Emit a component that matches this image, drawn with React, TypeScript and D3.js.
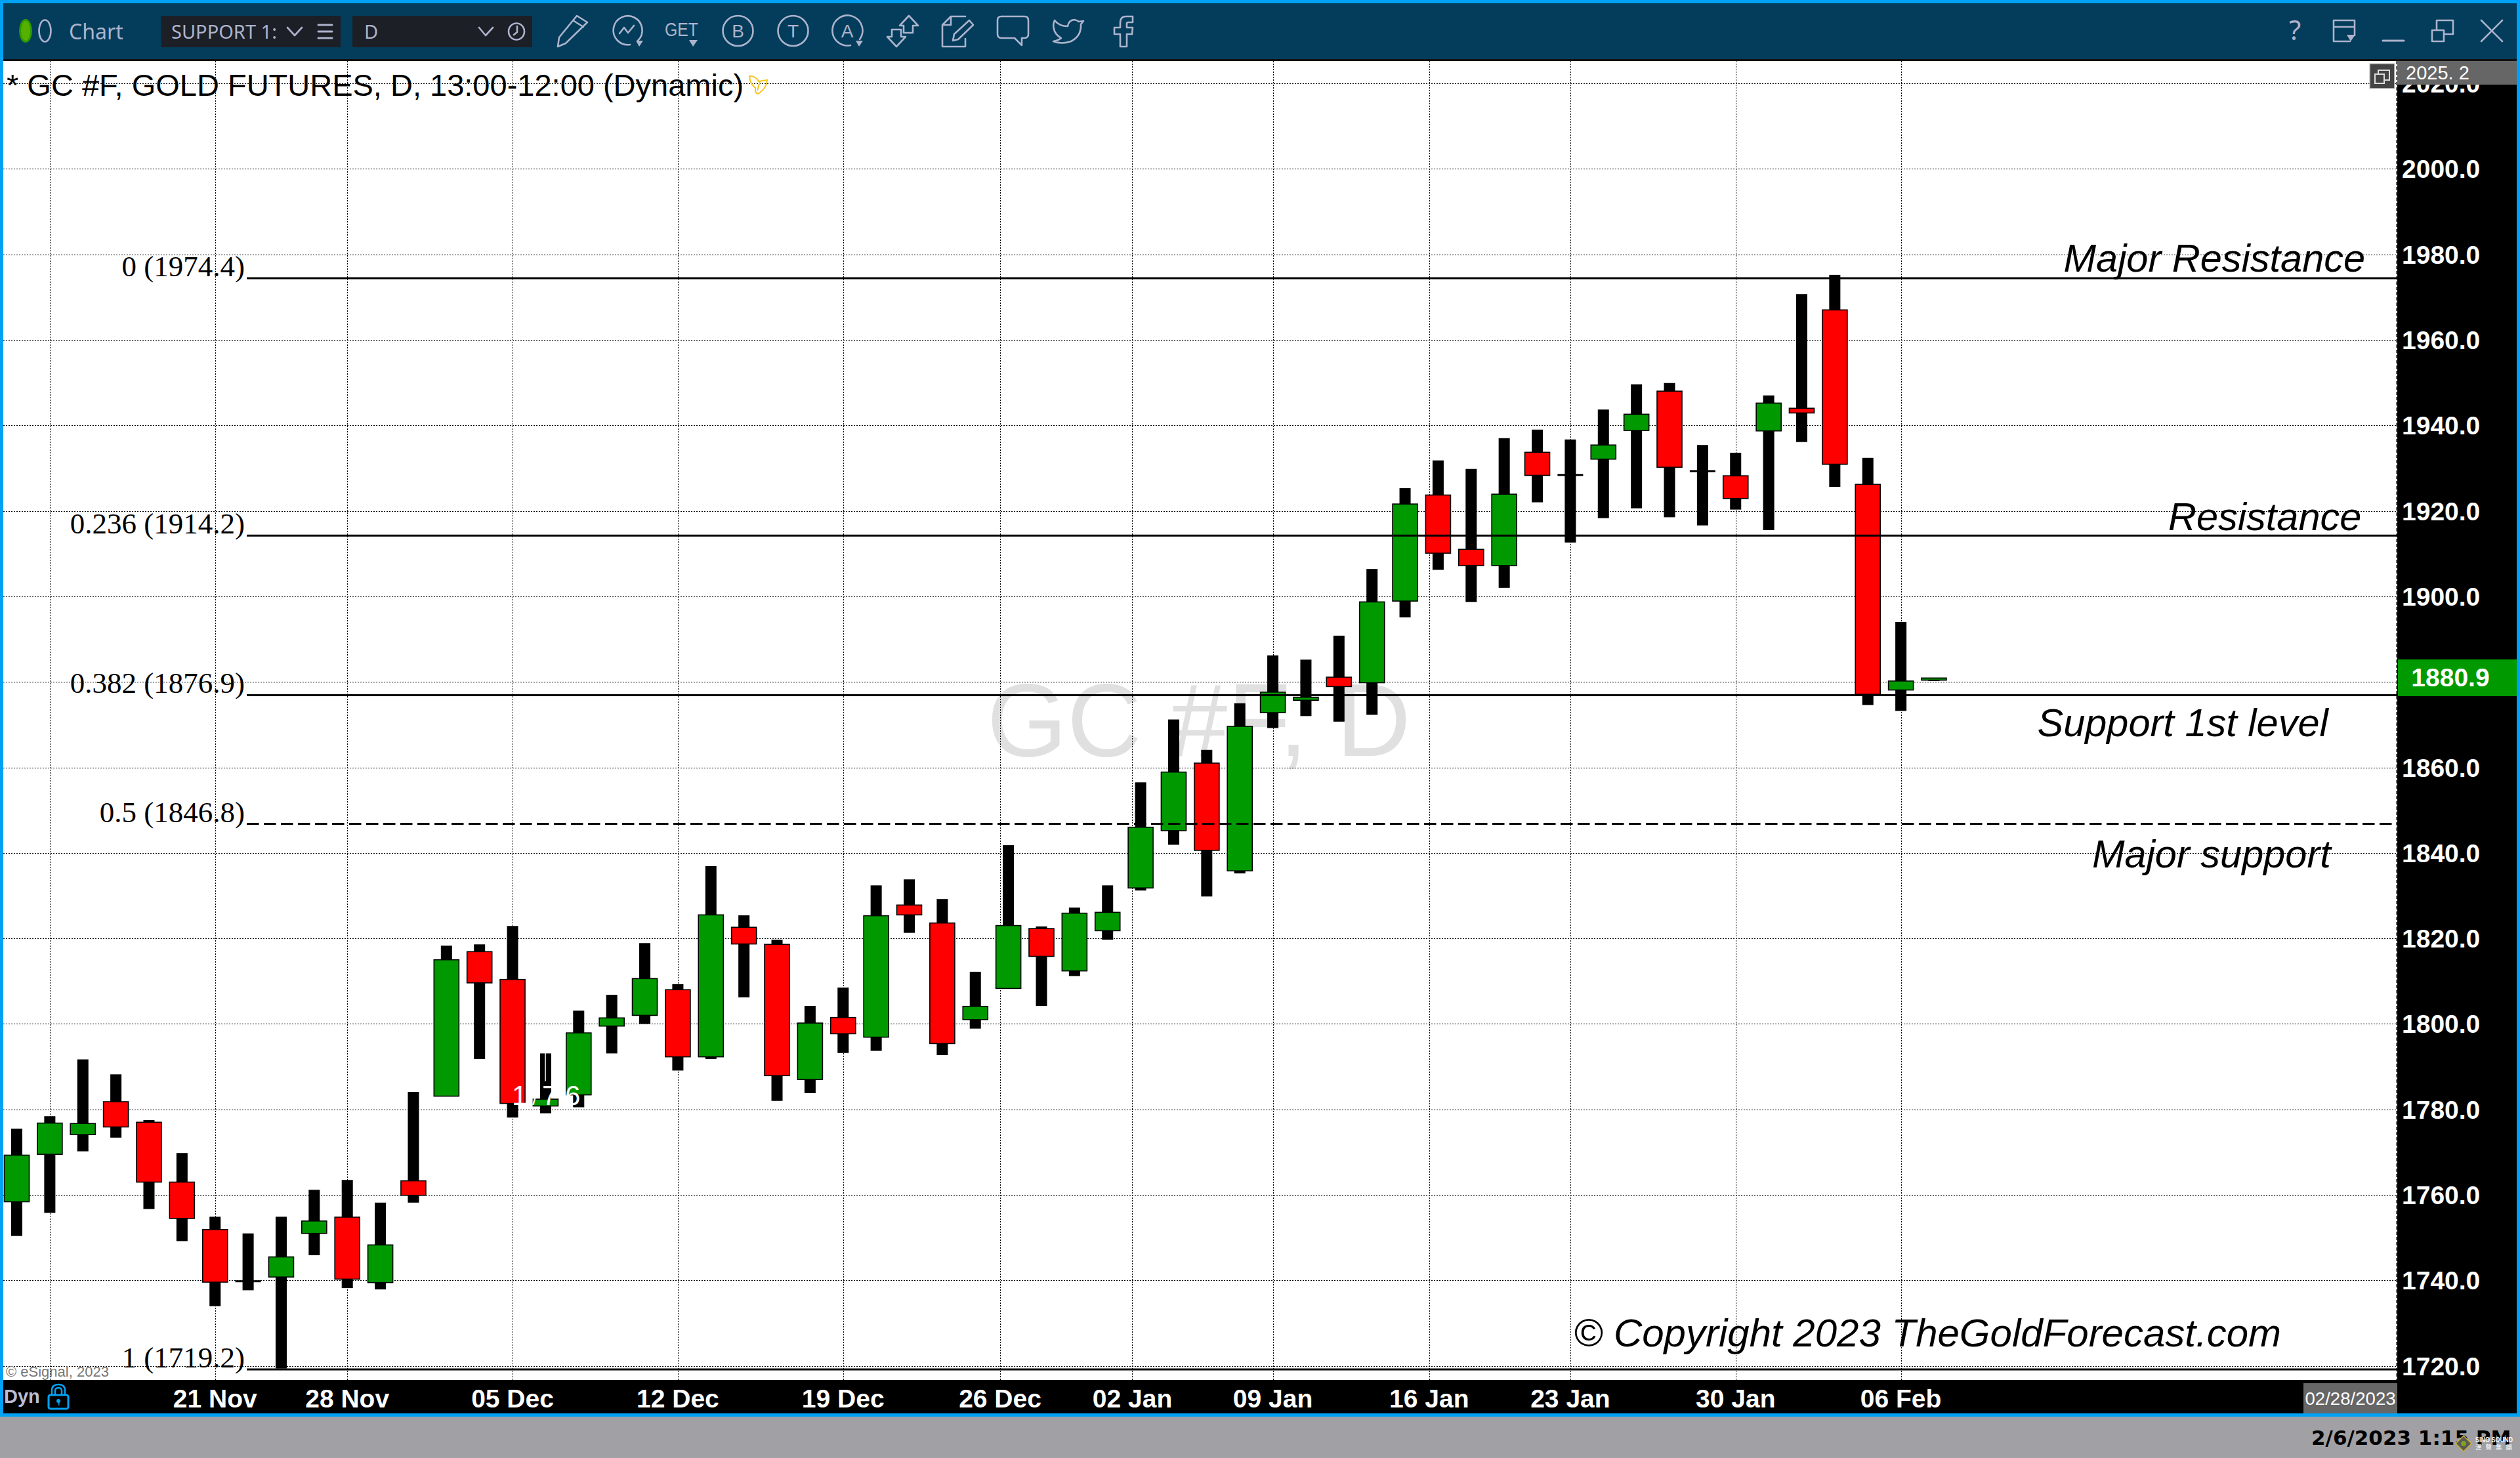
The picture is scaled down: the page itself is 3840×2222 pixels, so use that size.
import React from "react";
import * as d3 from "d3";

const opens = [1758.4,1769.5,1774.1,1781.8,1777,1763,1751.9,1739.8,1740.8,1751,1754.8,1739.5,1763.3,1783.1,1816.9,1810.4,1780.8,1783.4,1799.5,1802,1808,1792.3,1822.6,1818.6,1787,1801.5,1796.9,1827.8,1823.6,1801,1808.3,1822.3,1812.4,1821.8,1831.8,1845.2,1861,1835.8,1872.8,1875.7,1881.1,1879.8,1898.9,1923.7,1911,1907.2,1933.7,1928.4,1932.1,1938.8,1948,1929.3,1928.2,1938.7,1944,1967,1926.2,1878.1,1880.4];
const closes = [1769.3,1776.8,1776.7,1775.9,1763,1754.5,1739.6,1739.8,1745.5,1753.9,1740.3,1748.3,1759.9,1815,1809.6,1781.4,1782.4,1797.9,1801.4,1810.6,1792.3,1825.5,1818.7,1787.9,1800.2,1797.7,1825.3,1825.5,1795.4,1804.1,1823,1815.8,1825.9,1826.1,1846,1858.9,1840.6,1869.6,1877.6,1876.4,1878.9,1898.7,1921.6,1910.1,1907.2,1923.9,1928.3,1928.4,1935.4,1942.6,1930.2,1929.3,1922.9,1945.2,1942.9,1930.9,1877.1,1880.2,1880.9];
const highs = [1775.5,1778.4,1791.7,1788.2,1777.5,1769.8,1754.9,1751,1754.9,1761.2,1763.5,1758.2,1784.1,1818.3,1818.6,1822.9,1793.1,1803.1,1806.8,1818.9,1809.3,1836.9,1825.4,1819.7,1804.2,1808.5,1832.4,1833.8,1829.2,1812.2,1841.8,1822.8,1827.2,1832.4,1856.5,1871.2,1864.1,1875,1886.2,1885.2,1890.8,1906.4,1925.3,1931.8,1929.8,1937,1939,1936.7,1943.7,1949.6,1949.9,1935.4,1933.6,1947,1970.7,1975.2,1932.4,1894,1880.9];
const lows = [1750.4,1755.8,1770.2,1773.4,1756.7,1749.2,1734,1737.7,1719.4,1745.9,1738.2,1737.9,1758.2,1783.1,1791.8,1778.1,1779.1,1780.5,1793.1,1800,1789.1,1791.8,1806.2,1782,1783.8,1793.2,1793.7,1821.3,1792.7,1798.9,1808.3,1804.2,1811.2,1819.7,1831.2,1841.9,1829.8,1835.2,1869.2,1872,1870.7,1872.3,1895.1,1906.2,1898.7,1902,1922,1912.6,1918.3,1920.6,1918.5,1916.6,1920.3,1915.5,1936.1,1925.6,1874.6,1873.2,1880.2];

const priceTicks = d3.range(1720, 2021, 20);
const dateLabels = ["", "21 Nov", "28 Nov", "05 Dec", "12 Dec", "19 Dec", "26 Dec", "02 Jan", "09 Jan", "16 Jan", "23 Jan", "30 Jan", "06 Feb"];
const dateTickIndex = [1, 6, 10, 15, 20, 25, 29.75, 33.75, 38, 42.73, 47, 52, 57];
const fibLevels = [1974.4, 1914.2, 1876.9, 1846.8, 1719.2];
const fibNames = ["0 (1974.4)", "0.236 (1914.2)", "0.382 (1876.9)", "0.5 (1846.8)", "1 (1719.2)"];
const lastPrice = "1880.9";
const notes = ["Major Resistance", "Resistance", "Support 1st level", "Major support", "© Copyright 2023 TheGoldForecast.com"];

const SANS = "'Liberation Sans', Arial, sans-serif";
const SERIF = "'Liberation Serif', 'Times New Roman', serif";
const UI = "'Noto Sans', sans-serif";
const ICON = "#adb3cc";
const BLUE = "#00a2f5";
const TEAL = "#033d5b";
const GREEN = "#009a00";
const RED = "#ff0000";

const W = 3840, H = 2222;
const AX = 3653, PT = 93, PB = 2103, AB = 2154;

export default function App() {
  const x = d3.scaleLinear().domain([0, 57]).range([25.5, 2896.6]);
  const y = d3.scaleLinear().domain([1720, 2000]).range([2081.7, 257.3]);
  const bodyW = 38, wickW = 17;
  const noteX = [3144.5, 3304, 3104.5, 3188, 2398];
  const noteY = [413.8, 807.7, 1122, 1322, 2051.7];
  const noteSize = [59.5, 59.5, 59.5, 59.5, 60];

  const ic = { fill: "none", stroke: ICON, strokeWidth: 2.6, strokeLinejoin: "round" as const, strokeLinecap: "round" as const };

  return (
    <svg width={W} height={H} viewBox={`0 0 ${W} ${H}`} style={{ position: "absolute", left: 0, top: 0, display: "block" }}>
      <defs>
        <clipPath id="clipSupport"><rect x={255} y={24} width={168} height={48} /></clipPath>
        <clipPath id="clipPlot"><rect x={5} y={PT} width={AX - 5} height={PB - PT} /></clipPath>
      </defs>
      <rect width={W} height={H} fill="#a0a0a5" />
      <rect x={0} y={0} width={W} height={2159} fill={BLUE} />
      <rect x={5} y={5} width={W - 10} height={85} fill={TEAL} />
      <rect x={5} y={90} width={W - 10} height={3} fill="#111" />
      <rect x={5} y={PT} width={AX - 5} height={PB - PT} fill="#fff" />
      <rect x={5} y={PB} width={W - 10} height={AB - PB} fill="#000" />
      <rect x={AX} y={PT} width={3835 - AX} height={AB - PT} fill="#000" />

      {/* toolbar */}
      <ellipse cx={39} cy={47} rx={8.5} ry={16.5} fill="#55b000" stroke="#2c9a00" strokeWidth={3} />
      <ellipse cx={68.5} cy={47} rx={9} ry={16.5} {...ic} />
      <text x={105} y={60} fontFamily={UI} fontSize={32} fill={ICON}>Chart</text>
      <rect x={245.5} y={24} width={273.5} height={48} fill="#1c1f26" />
      <rect x={537} y={24} width={274} height={48} fill="#1c1f26" />
      <g clipPath="url(#clipSupport)">
        <text x={261} y={59} fontFamily={UI} fontSize={29} fill={ICON}>SUPPORT 1:</text>
      </g>
      <path d="M438 42 L449 54 L460 42" {...ic} />
      <path d="M485 38 H506 M485 48 H506 M485 58 H506" {...ic} strokeWidth={3} />
      <text x={555} y={59} fontFamily={UI} fontSize={29} fill={ICON}>D</text>
      <path d="M730 42 L740 54 L751 42" {...ic} />
      <ellipse cx={787} cy={48} rx={12} ry={12.5} {...ic} />
      <path d="M788 40 V49 L783 53" {...ic} />
      <path d="M879 24 L895 34 L862 66 L850 71 L852 57 Z M873 31 L889 41" {...ic} />
      <path d="M972 62 A22 22 0 1 0 960 68 M944 51 L951 42 L957 50 L966 39" {...ic} />
      <path d="M969 62 L980 62 L974 71 Z" fill={ICON} />
      <text x={1013} y={55} fontFamily={SANS} fontSize={30} fill={ICON} textLength={51} lengthAdjust="spacingAndGlyphs">GET</text>
      <path d="M1050 61 H1063 L1056 71 Z" fill={ICON} />
      <circle cx={1124.5} cy={47} r={23} {...ic} />
      <text x={1124.5} y={57} textAnchor="middle" fontFamily={SANS} fontSize={28} fill={ICON}>B</text>
      <circle cx={1208.5} cy={47} r={23} {...ic} />
      <text x={1208.5} y={57} textAnchor="middle" fontFamily={SANS} fontSize={28} fill={ICON}>T</text>
      <path d="M1310 60 A23 23 0 1 0 1296 69" {...ic} />
      <text x={1291} y={57} textAnchor="middle" fontFamily={SANS} fontSize={28} fill={ICON}>A</text>
      <path d="M1304 62 H1315 L1309 71 Z" fill={ICON} />
      <path d="M1385 24 L1399 39 L1391 39 L1391 50 L1377 50 L1377 39 L1371 39 Z" {...ic} />
      <path d="M1366 71 L1352 56 L1359 56 L1359 45 L1373 45 L1373 56 L1380 56 Z" {...ic} />
      <path d="M1471 25 H1449 L1436 38 V71 H1471 V59 M1449 25 V38 H1436 M1452 62 L1454 52 L1477 31 L1483 38 L1460 60 Z" {...ic} />
      <path d="M1526 25 H1561 Q1567 25 1567 31 V52 Q1567 58 1561 58 H1557 V69 L1546 58 H1526 Q1520 58 1520 52 V31 Q1520 25 1526 25 Z" {...ic} />
      <path d="M1607 31 Q1614 40 1627 40 Q1628 31 1637 30 Q1642 31 1644 33 L1651 32 L1647 37 Q1648 55 1632 63 Q1618 68 1605 63 Q1612 62 1617 58 Q1607 52 1606 44 Q1604 38 1607 31 Z" {...ic} />
      <path d="M1726 25 H1716 Q1707 25 1707 35 V42 H1698 V52 H1707 V71 H1717 V52 H1725 L1726 42 H1717 V36 Q1717 34 1719 34 H1726 Z" {...ic} />
      <text x={3497} y={61} textAnchor="middle" fontFamily={UI} fontSize={42} fill={ICON}>?</text>
      <path d="M3581 63 H3556 V31 H3588 V54 M3556 41 H3588" {...ic} />
      <path d="M3576 53 H3589 L3582 63 Z" fill={ICON} />
      <path d="M3631 62 H3663" {...ic} strokeWidth={3} />
      <path d="M3706 46 H3724 V63 H3706 Z M3713 46 V31 H3738 V52 H3724" {...ic} />
      <path d="M3781 31 L3813 63 M3813 31 L3781 63" {...ic} />

      {/* watermark */}
      <text x={1504} y={1152} fontFamily={SANS} fontSize={157} fill="#e0e0e0">GC #F, D</text>

      {/* grid */}
      <g clipPath="url(#clipPlot)" stroke="#000" strokeWidth={1} strokeDasharray="2 2" fill="none" shapeRendering="crispEdges">
        {priceTicks.map((p) => (
          <line key={p} x1={5} x2={AX} y1={Math.round(y(p)) + 0.5} y2={Math.round(y(p)) + 0.5} />
        ))}
        {dateTickIndex.map((i) => (
          <line key={i} x1={Math.round(x(i)) + 0.5} x2={Math.round(x(i)) + 0.5} y1={PT} y2={PB} />
        ))}
      </g>
      <line x1={AX - 1} x2={AX - 1} y1={PT} y2={PB} stroke="#333" strokeWidth={1.5} strokeDasharray="5 3" />

      {/* candles */}
      <g clipPath="url(#clipPlot)">
        {highs.map((h, i) => {
          const top = Math.max(opens[i], closes[i]);
          const bot = Math.min(opens[i], closes[i]);
          const cx = x(i);
          const doji = opens[i] === closes[i];
          return (
            <g key={i}>
              <rect x={cx - wickW / 2} y={y(h)} width={wickW} height={y(lows[i]) - y(h)} fill="#000" />
              {doji ? (
                <rect x={cx - 19.5} y={y(top) - 1.5} width={39} height={3} fill="#000" />
              ) : (
                <rect x={cx - bodyW / 2} y={y(top)} width={bodyW} height={y(bot) - y(top)}
                  fill={closes[i] > opens[i] ? GREEN : RED} stroke="#000" strokeWidth={1.6} />
              )}
            </g>
          );
        })}
      </g>
      <line x1={831} x2={831} y1={1605} y2={1648} stroke="#fff" strokeWidth={1.5} />

      {/* Fibonacci levels */}
      {fibLevels.map((f, i) => (
        <g key={f}>
          <line x1={376} x2={AX} y1={y(f)} y2={y(f)} stroke="#000" strokeWidth={3}
            strokeDasharray={f === 1846.8 ? "18.5 7.5" : undefined} />
          <text x={373} y={y(f) - 3} textAnchor="end" fontFamily={SERIF} fontSize={45} fill="#000">{fibNames[i]}</text>
        </g>
      ))}

      {/* stray white price text over candles */}
      <g fontFamily={SANS} fontSize={42} fill="#fff">
        <text x={780} y={1684}>1</text>
        <text x={811} y={1684} fontSize={30}>/</text>
        <text x={826} y={1684}>7</text>
        <text x={861} y={1684}>6</text>
      </g>

      {/* annotations */}
      {notes.map((n, i) => (
        <text key={n} x={noteX[i]} y={noteY[i]} fontFamily={SANS} fontStyle="italic" fontSize={noteSize[i]} fill="#000">{n}</text>
      ))}

      {/* title */}
      <text x={10} y={146} fontFamily={SANS} fontSize={47} fill="#000">* GC #F, GOLD FUTURES, D, 13:00-12:00 (Dynamic)</text>
      <path d="M1142 116 Q1152 116 1156 124 L1169 122 Q1168 134 1158 141 L1155 143 Q1150 142 1151 134 Q1143 128 1142 116 Z M1158 124 L1154 138" fill="none" stroke="#f5c518" strokeWidth={2} />
      <text x={9} y={2097.7} fontFamily={SANS} fontSize={22} fill="#777">© eSignal, 2023</text>

      {/* price axis */}
      {priceTicks.map((p) => (
        <text key={p} x={3660} y={y(p) + 14} fontFamily={SANS} fontWeight={700} fontSize={39} fill="#fff">{d3.format(".1f")(p)}</text>
      ))}
      <rect x={AX} y={93} width={3835 - AX} height={36} fill="#666" />
      <text x={3666} y={121} fontFamily={SANS} fontSize={29} fill="#fff">2025. 2</text>
      <rect x={3611} y={97} width={38} height={38} fill="#444" stroke="#ccc" strokeWidth={1.5} />
      <path d="M3619 122 V113 H3633 V127 H3619 Z M3624 113 V107 H3641 V122 H3633" fill="none" stroke="#ddd" strokeWidth={2} />
      <rect x={3654} y={1005} width={181} height={56} fill={GREEN} />
      <text x={3734} y={1046} textAnchor="middle" fontFamily={SANS} fontWeight={700} fontSize={39} fill="#fff">{lastPrice}</text>

      {/* date axis */}
      {dateLabels.map((d, i) => d && (
        <text key={d} x={x(dateTickIndex[i])} y={2144.5} textAnchor="middle" fontFamily={SANS} fontWeight={700} fontSize={39} fill="#fff">{d}</text>
      ))}
      <text x={6} y={2138} fontFamily={SANS} fontWeight={700} fontSize={29} fill="#b9bdd6">Dyn</text>
      <rect x={74} y={2126} width={30} height={21} rx={3} fill="none" stroke={BLUE} strokeWidth={3} />
      <path d="M79 2126 V2119 Q79 2110 89 2110 Q99 2110 99 2119 V2126 M84 2126 V2120 Q84 2115 89 2115 Q94 2115 94 2120 V2126" fill="none" stroke={BLUE} strokeWidth={2.5} />
      <circle cx={89} cy={2135} r={3} fill={BLUE} />
      <rect x={89} y={2135} width={1.5} height={7} fill={BLUE} />
      <rect x={3510} y={2108} width={AX - 3510} height={46} fill="#666" />
      <text x={3512.5} y={2141} fontFamily={SANS} fontSize={27.6} fill="#fff">02/28/2023</text>

      {/* status strip */}
      <text x={3522} y={2202} fontFamily="'DejaVu Sans', sans-serif" fontWeight={700} fontSize={31} fill="#000">2/6/2023 1:15 PM</text>
      <path d="M3754 2188 L3766 2200 L3754 2212 L3742 2200 Z" fill="#5a5a55" stroke="#c9b030" strokeWidth={1.5} />
      <circle cx={3754} cy={2200} r={4} fill="#7fa020" />
      <text x={3772} y={2198} fontFamily={SANS} fontWeight={700} fontSize={10.5} fill="#fff" textLength={57} lengthAdjust="spacingAndGlyphs">SINO SOUND</text>
      <text x={3772} y={2209} fontFamily="'Noto Sans CJK TC', sans-serif" fontSize={9.5} fill="#fff" letterSpacing={6}>漢聲集團</text>
    </svg>
  );
}
